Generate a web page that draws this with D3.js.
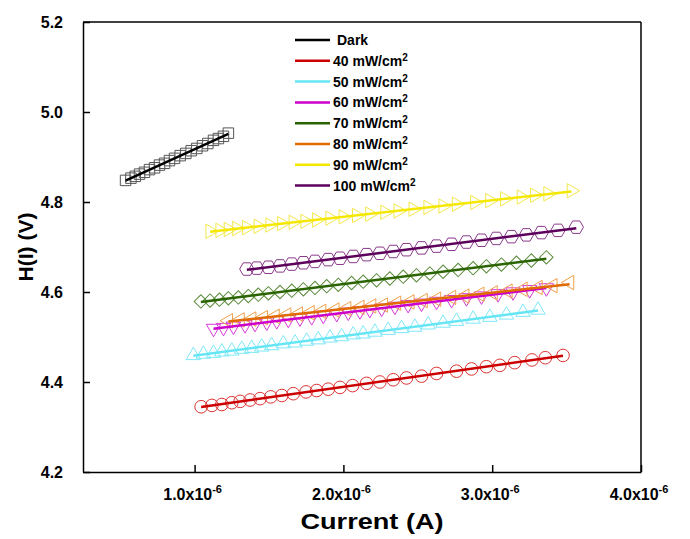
<!DOCTYPE html>
<html>
<head>
<meta charset="utf-8">
<script src="https://cdn.jsdelivr.net/npm/d3@7"></script>
<style>
  body { margin: 0; background: #fff; }
  svg { font-family: "Liberation Sans", Arial, sans-serif; }
</style>
</head>
<body>
<svg id="chart" width="690" height="539"></svg>
<script>
// current values are in units of 1e-6 A, H(I) in V
const darkX = [0.536, 0.572, 0.601, 0.630, 0.663, 0.697, 0.731, 0.764, 0.798, 0.831, 0.865, 0.903, 0.941, 0.977, 1.015, 1.053, 1.089, 1.127, 1.160, 1.194, 1.227];
const darkY = [4.848, 4.853, 4.857, 4.862, 4.866, 4.872, 4.876, 4.882, 4.886, 4.892, 4.897, 4.903, 4.908, 4.914, 4.919, 4.925, 4.930, 4.937, 4.941, 4.946, 4.953];

const p40X = [1.044, 1.116, 1.183, 1.250, 1.306, 1.373, 1.440, 1.512, 1.586, 1.663, 1.749, 1.820, 1.898, 1.977, 2.062, 2.156, 2.245, 2.335, 2.424, 2.525, 2.626, 2.760, 2.861, 2.961, 3.051, 3.151, 3.267, 3.357, 3.476];
const p40Y = [4.345, 4.348, 4.350, 4.354, 4.357, 4.360, 4.363, 4.367, 4.370, 4.374, 4.378, 4.381, 4.384, 4.388, 4.392, 4.397, 4.400, 4.405, 4.409, 4.413, 4.419, 4.424, 4.429, 4.434, 4.437, 4.443, 4.449, 4.454, 4.459];

const p50X = [0.992, 1.059, 1.127, 1.183, 1.250, 1.317, 1.384, 1.451, 1.518, 1.596, 1.675, 1.753, 1.831, 1.910, 1.988, 2.066, 2.133, 2.212, 2.301, 2.391, 2.480, 2.570, 2.670, 2.760, 2.872, 2.984, 3.096, 3.207, 3.308];
const p50Y = [4.459, 4.462, 4.464, 4.467, 4.469, 4.473, 4.475, 4.478, 4.481, 4.485, 4.487, 4.491, 4.494, 4.498, 4.501, 4.505, 4.507, 4.511, 4.515, 4.519, 4.522, 4.527, 4.531, 4.535, 4.540, 4.544, 4.549, 4.555, 4.560];

const p60X = [1.127, 1.194, 1.261, 1.339, 1.406, 1.485, 1.552, 1.630, 1.708, 1.787, 1.865, 1.955, 2.033, 2.111, 2.178, 2.257, 2.346, 2.435, 2.525, 2.626, 2.727, 2.827, 2.928, 3.039, 3.140, 3.252, 3.364];
const p60Y = [4.519, 4.521, 4.524, 4.527, 4.530, 4.533, 4.536, 4.539, 4.542, 4.545, 4.548, 4.552, 4.555, 4.558, 4.561, 4.564, 4.568, 4.572, 4.575, 4.579, 4.583, 4.587, 4.591, 4.596, 4.600, 4.605, 4.609];

const p70X = [1.042, 1.104, 1.167, 1.227, 1.294, 1.361, 1.428, 1.496, 1.574, 1.653, 1.731, 1.809, 1.888, 1.966, 2.055, 2.133, 2.223, 2.312, 2.402, 2.491, 2.581, 2.670, 2.771, 2.872, 2.961, 3.062, 3.163, 3.263, 3.364];
const p70Y = [4.579, 4.581, 4.583, 4.586, 4.588, 4.591, 4.594, 4.597, 4.600, 4.603, 4.606, 4.609, 4.613, 4.616, 4.620, 4.623, 4.626, 4.630, 4.634, 4.637, 4.641, 4.645, 4.649, 4.653, 4.657, 4.661, 4.665, 4.670, 4.677];

const p80X = [1.227, 1.306, 1.384, 1.462, 1.541, 1.619, 1.697, 1.776, 1.854, 1.943, 2.022, 2.111, 2.190, 2.268, 2.357, 2.447, 2.536, 2.626, 2.727, 2.816, 2.917, 3.006, 3.106, 3.207, 3.308, 3.408, 3.520];
const p80Y = [4.536, 4.538, 4.540, 4.543, 4.546, 4.549, 4.551, 4.554, 4.557, 4.560, 4.563, 4.566, 4.569, 4.571, 4.575, 4.578, 4.581, 4.584, 4.588, 4.591, 4.595, 4.598, 4.602, 4.606, 4.610, 4.614, 4.621];

const p90X = [1.104, 1.171, 1.227, 1.284, 1.351, 1.428, 1.507, 1.586, 1.663, 1.742, 1.820, 1.910, 1.999, 2.089, 2.178, 2.279, 2.368, 2.469, 2.569, 2.670, 2.760, 2.883, 2.984, 3.084, 3.196, 3.286, 3.375, 3.532];
const p90Y = [4.735, 4.737, 4.739, 4.741, 4.743, 4.746, 4.749, 4.752, 4.755, 4.757, 4.760, 4.764, 4.767, 4.770, 4.773, 4.777, 4.780, 4.784, 4.788, 4.791, 4.795, 4.799, 4.803, 4.807, 4.811, 4.815, 4.818, 4.825];

const p100X = [1.351, 1.418, 1.496, 1.574, 1.653, 1.731, 1.809, 1.898, 1.977, 2.066, 2.156, 2.245, 2.335, 2.424, 2.525, 2.626, 2.727, 2.827, 2.928, 3.028, 3.129, 3.230, 3.330, 3.442, 3.565];
const p100Y = [4.651, 4.653, 4.655, 4.658, 4.662, 4.665, 4.668, 4.672, 4.675, 4.679, 4.683, 4.686, 4.690, 4.694, 4.698, 4.702, 4.706, 4.711, 4.715, 4.719, 4.723, 4.727, 4.732, 4.737, 4.744];

const seriesNames = ["Dark", "40", "50", "60", "70", "80", "90", "100"];
const lineColors = ["#000000", "#cc0000", "#66e6f5", "#cc00cc", "#2a6400", "#e06a00", "#f5e800", "#5c005c"];
const markColors = ["#555555", "#dd3333", "#7fe8f7", "#d63ad6", "#5a8a3a", "#f0a04a", "#f2e84a", "#8a3a8a"];
const markShapes = ["square", "circle", "triUp", "triDown", "diamond", "triLeft", "triRight", "hexagon"];

const xTicks = [1, 2, 3, 4];
const yTicks = [4.2, 4.4, 4.6, 4.8, 5.0, 5.2];

const allX = [darkX, p40X, p50X, p60X, p70X, p80X, p90X, p100X];
const allY = [darkY, p40Y, p50Y, p60Y, p70Y, p80Y, p90Y, p100Y];

const series = seriesNames.map((name, i) => ({
    name: name,
    points: allX[i].map((x, j) => ({x: x, y: allY[i][j]})),
    line: lineColors[i],
    mark: markColors[i],
    shape: markShapes[i]
}));

const svg = d3.select("#chart");
const margin = {top: 22, right: 49, bottom: 67, left: 83};
const width = 690 - margin.left - margin.right;
const height = 539 - margin.top - margin.bottom;

const x = d3.scaleLinear().domain([0.25, 4.0]).range([0, width]);
const y = d3.scaleLinear().domain([4.2, 5.2]).range([height, 0]);

const g = svg.append("g")
    .attr("transform", `translate(${margin.left},${margin.top})`);

// least squares fit for each series
function fit(pts) {
    const mx = d3.mean(pts, d => d.x), my = d3.mean(pts, d => d.y);
    const sxy = d3.sum(pts, d => (d.x - mx) * (d.y - my));
    const sxx = d3.sum(pts, d => (d.x - mx) * (d.x - mx));
    const b = sxy / sxx;
    const x0 = d3.min(pts, d => d.x), x1 = d3.max(pts, d => d.x);
    return [{x: x0, y: my + b * (x0 - mx)}, {x: x1, y: my + b * (x1 - mx)}];
}

function hexPath(r) {
    const p = d3.path();
    for (let k = 0; k < 6; k++) {
        const a = k * Math.PI / 3;
        if (k === 0) p.moveTo(r * Math.cos(a), r * Math.sin(a));
        else p.lineTo(r * Math.cos(a), r * Math.sin(a));
    }
    p.closePath();
    return p.toString();
}

function shapeInfo(shape) {
    if (shape === "square") return {d: d3.symbol(d3.symbolSquare, 110)(), rot: 0};
    if (shape === "circle") return {d: d3.symbol(d3.symbolCircle, 125)(), rot: 0};
    if (shape === "triUp") return {d: d3.symbol(d3.symbolTriangle, 90)(), rot: 0};
    if (shape === "triDown") return {d: d3.symbol(d3.symbolTriangle, 90)(), rot: 180};
    if (shape === "triLeft") return {d: d3.symbol(d3.symbolTriangle, 90)(), rot: -90};
    if (shape === "triRight") return {d: d3.symbol(d3.symbolTriangle, 90)(), rot: 90};
    if (shape === "diamond") return {d: d3.symbol(d3.symbolSquare, 90)(), rot: 45};
    return {d: hexPath(7.2), rot: 0};
}

const line = d3.line().x(d => x(d.x)).y(d => y(d.y));

// markers
series.forEach(s => {
    const sh = shapeInfo(s.shape);
    g.append("g")
        .attr("fill", "none")
        .attr("stroke", s.mark)
        .attr("stroke-width", 1)
        .selectAll("path")
        .data(s.points)
        .enter().append("path")
        .attr("d", sh.d)
        .attr("transform", d => `translate(${x(d.x)},${y(d.y)}) rotate(${sh.rot})`);
});

// fit lines
series.forEach(s => {
    g.append("path")
        .datum(fit(s.points))
        .attr("fill", "none")
        .attr("stroke", s.line)
        .attr("stroke-width", 2.5)
        .attr("d", line);
});

// axes
const xAxis = g.append("g")
    .attr("transform", `translate(0,${height})`)
    .call(d3.axisBottom(x).tickValues(xTicks).tickSizeInner(-7).tickSizeOuter(0).tickFormat(""));
const yAxis = g.append("g")
    .call(d3.axisLeft(y).tickValues(yTicks).tickSizeInner(-7).tickSizeOuter(0).tickFormat(""));
[xAxis, yAxis].forEach(a => {
    a.selectAll("path, line").attr("stroke", "#000").attr("stroke-width", 1.5);
});

g.append("line").attr("x1", 0).attr("x2", width).attr("y1", 0).attr("y2", 0)
    .attr("stroke", "#000").attr("stroke-width", 1.5);
g.append("line").attr("x1", width).attr("x2", width).attr("y1", 0).attr("y2", height)
    .attr("stroke", "#000").attr("stroke-width", 1.5);

// tick labels
g.append("g").selectAll("text")
    .data(yTicks)
    .enter().append("text")
    .attr("x", -20)
    .attr("y", d => y(d))
    .attr("dy", "0.36em")
    .attr("text-anchor", "end")
    .attr("font-size", 16)
    .attr("font-weight", "bold")
    .text(d => d.toFixed(1));

const xl = g.append("g").selectAll("text")
    .data(xTicks)
    .enter().append("text")
    .attr("x", d => x(d) - 2)
    .attr("y", height + 28)
    .attr("text-anchor", "middle")
    .attr("font-size", 16)
    .attr("font-weight", "bold");
xl.append("tspan").text(d => d.toFixed(1) + "x10");
xl.append("tspan").attr("dy", -7).attr("font-size", 11).text("-6");

// axis titles
svg.append("text")
    .attr("transform", `translate(33,${margin.top + height / 2}) rotate(-90)`)
    .attr("text-anchor", "middle")
    .attr("font-size", 21)
    .attr("font-weight", "bold")
    .text("H(I) (V)");

svg.append("text")
    .attr("x", 372)
    .attr("y", 529)
    .attr("text-anchor", "middle")
    .attr("font-size", 22)
    .attr("font-weight", "bold")
    .attr("textLength", 143)
    .attr("lengthAdjust", "spacingAndGlyphs")
    .text("Current (A)");

// legend
const legend = svg.append("g").attr("transform", "translate(295,40)");
const row = legend.selectAll("g")
    .data(series)
    .enter().append("g")
    .attr("transform", (d, i) => `translate(0,${i * 20.8})`);
row.append("line")
    .attr("x1", 0).attr("x2", 35)
    .attr("stroke", d => d.line)
    .attr("stroke-width", 2.5);
const lt = row.append("text")
    .attr("x", d => d.name === "Dark" ? 42 : 38)
    .attr("dy", "0.36em")
    .attr("font-size", 14)
    .attr("font-weight", "bold");
lt.append("tspan").text(d => d.name === "Dark" ? "Dark" : d.name + " mW/cm");
lt.filter(d => d.name !== "Dark").append("tspan")
    .attr("dy", -5).attr("font-size", 10).text("2");
</script>
</body>
</html>
